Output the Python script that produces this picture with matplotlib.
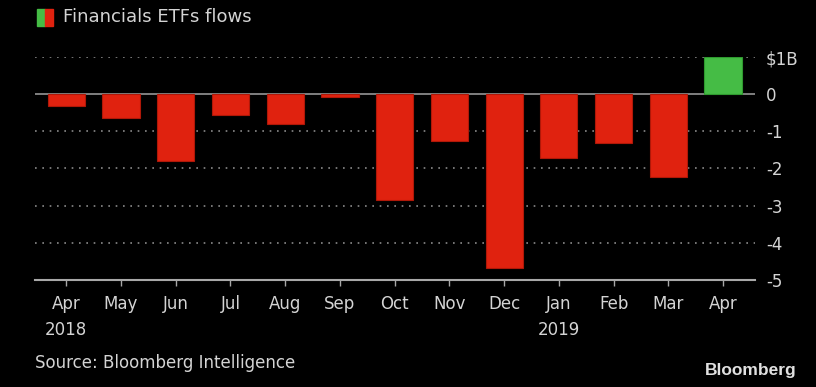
import numpy as np
import matplotlib.pyplot as plt
from matplotlib.patches import Rectangle

# Datos
meses = ["Apr", "May", "Jun", "Jul", "Aug", "Sep", "Oct", "Nov", "Dec", "Jan", "Feb", "Mar", "Apr"]
anios = ["2018", "", "", "", "", "", "", "", "", "2019", "", "", ""]
flujos = [-0.31, -0.65, -1.80, -0.55, -0.81, -0.08, -2.86, -1.27, -4.67, -1.73, -1.31, -2.23, 1.0]
y_ticks = [1, 0, -1, -2, -3, -4, -5]
y_labels = ["$1B", "0", "-1", "-2", "-3", "-4", "-5"]

rojo = "#e0220f"
verde = "#45bc45"
texto = "#d4d4d4"

fig = plt.figure(figsize=(8.16, 3.87), dpi=100, facecolor="black")
ax = fig.add_axes([0.043, 0.2765, 0.882, 0.5762], facecolor="black")

x = np.arange(len(meses))
colores = [verde if v > 0 else rojo for v in flujos]
bordes = ["#2f9a2f" if v > 0 else "#b01808" for v in flujos]
ax.bar(x, flujos, width=0.68, color=colores, edgecolor=bordes, linewidth=0.8, zorder=3)

ax.set_xlim(-0.57, 12.58)
ax.set_ylim(-5, 1)

# Lineas de la cuadricula
for t in y_ticks:
    if t == 0:
        ax.axhline(0, color="#8a8a8a", lw=1.3, zorder=2)
    elif t == -5:
        continue
    else:
        ax.axhline(t, color="#8a8a8a", lw=1.2, ls=(0, (1, 3.4)), zorder=1)

for s in ["top", "left", "right"]:
    ax.spines[s].set_visible(False)
ax.spines["bottom"].set_color("#a8a8a8")
ax.spines["bottom"].set_linewidth(1.5)

ax.yaxis.tick_right()
ax.set_yticks(y_ticks)
ax.set_yticklabels(y_labels)
ax.tick_params(axis="y", length=0, pad=8, labelcolor=texto, labelsize=12)

ax.set_xticks(x)
ax.set_xticklabels([m + "\n" + a for m, a in zip(meses, anios)], linespacing=1.55, va="top")
ax.tick_params(axis="x", length=4, width=1, color="#a8a8a8", pad=7, labelcolor=texto, labelsize=12)

# Titulo con icono
fig.patches.append(Rectangle((37 / 816, 1 - 26 / 387), 8 / 816, 17 / 387, transform=fig.transFigure, color=verde))
fig.patches.append(Rectangle((45 / 816, 1 - 26 / 387), 8 / 816, 17 / 387, transform=fig.transFigure, color=rojo))
fig.text(63 / 816, 1 - 17 / 387, "Financials ETFs flows", color=texto, fontsize=13, va="center", ha="left")

fig.text(35 / 816, 1 - 363 / 387, "Source: Bloomberg Intelligence", color=texto, fontsize=12, va="center", ha="left")
fig.text(797 / 816, 1 - 370 / 387, "Bloomberg", color="#e0e0e0", fontsize=12.5, fontweight="bold",
         family="Liberation Sans", va="center", ha="right")

fig.savefig("out.png", dpi=100, facecolor="black")
